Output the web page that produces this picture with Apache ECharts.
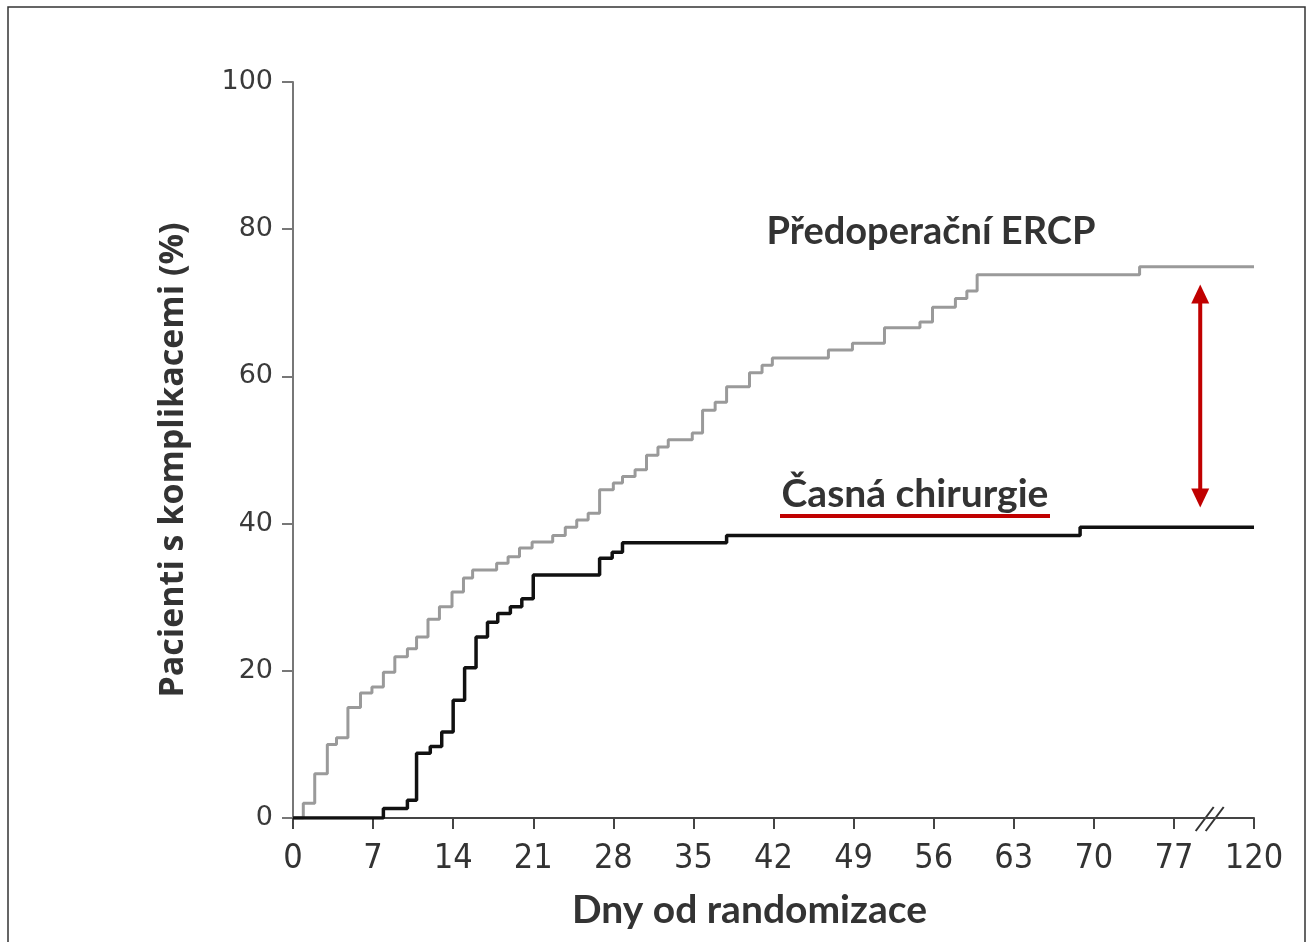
<!DOCTYPE html>
<html>
<head>
<meta charset="utf-8">
<script src="https://cdn.jsdelivr.net/npm/echarts@6/dist/echarts.min.js"></script>
<style>
html,body{margin:0;padding:0;background:#fff;}
#chart{width:1308px;height:942px;}
</style>
</head>
<body>
<div id="chart"></div>
<script>
// ---- data ----
const xTickValues = [0, 7, 14, 21, 28, 35, 42, 49, 56, 63, 70, 77, 84];
const xTickLabels = ['0', '7', '14', '21', '28', '35', '42', '49', '56', '63', '70', '77', '120'];
const yTickLabels = ['0', '20', '40', '60', '80', '100'];

const ercpDays = [0, 0.9, 1.9, 3.0, 3.8, 4.8, 5.9, 6.9, 7.9, 8.9, 10.0, 10.8, 11.8, 12.8, 13.9, 14.9, 15.7, 17.8, 18.8, 19.8, 20.9, 22.7, 23.8, 24.8, 25.8, 26.8, 28.0, 28.8, 29.9, 30.9, 31.9, 32.8, 34.9, 35.8, 36.9, 37.9, 39.9, 41.0, 41.9, 46.8, 48.9, 51.7, 54.8, 55.9, 57.9, 58.9, 59.8, 74.0, 84];
const ercpPct  = [0, 2, 6, 10, 10.9, 15, 17, 17.8, 19.8, 21.9, 23, 24.6, 27, 28.7, 30.7, 32.6, 33.7, 34.6, 35.5, 36.7, 37.5, 38.4, 39.5, 40.5, 41.4, 44.6, 45.5, 46.4, 47.3, 49.3, 50.4, 51.4, 52.3, 55.4, 56.5, 58.6, 60.5, 61.5, 62.5, 63.6, 64.5, 66.6, 67.4, 69.4, 70.6, 71.6, 73.8, 74.9, 74.9];

const surgDays = [0, 7.9, 10.0, 10.8, 12.0, 13.0, 14.0, 15.0, 16.0, 17.0, 17.9, 19.0, 20.0, 21.0, 26.8, 27.9, 28.8, 37.9, 68.8, 84];
const surgPct  = [0, 1.3, 2.4, 8.8, 9.7, 11.7, 16, 20.4, 24.6, 26.6, 27.8, 28.7, 29.8, 33, 35.3, 36.1, 37.4, 38.4, 39.5, 39.5];

const seriesNames = ['Předoperační ERCP', 'Časná chirurgie'];
const xTitle = 'Dny od randomizace';
const yTitle = 'Pacienti s komplikacemi (%)';

const ercpData = ercpDays.map((d, i) => [d, ercpPct[i]]);
const surgData = surgDays.map((d, i) => [d, surgPct[i]]);

const chart = echarts.init(document.getElementById('chart'), null, {renderer: 'canvas'});
const option = {
  backgroundColor: '#ffffff',
  animation: false,
  grid: {left: 293, right: 54, top: 82, bottom: 124, containLabel: false},
  xAxis: {
    type: 'value', min: 0, max: 84, interval: 7,
    name: xTitle, nameLocation: 'middle', nameGap: 73,
    nameTextStyle: {fontFamily: 'Lato', fontWeight: 'bold', fontSize: 39, color: '#333', padding: [0, 48, 0, 0]},
    axisLine: {show: true, lineStyle: {color: '#444', width: 2}},
    axisTick: {show: true, length: 11, lineStyle: {color: '#444', width: 2}},
    axisLabel: {
      fontFamily: 'Liberation Sans Narrow, DejaVu Sans Condensed, sans-serif', fontSize: 34, color: '#333', margin: 24,
      formatter: v => { const i = xTickValues.indexOf(v); return i >= 0 ? xTickLabels[i] : ''; }
    },
    splitLine: {show: false}
  },
  yAxis: {
    type: 'value', min: 0, max: 100, interval: 20,
    name: yTitle, nameLocation: 'middle', nameGap: 103, nameRotate: 90,
    nameTextStyle: {fontFamily: 'Open Sans', fontWeight: 'bold', fontSize: 34, color: '#333', padding: [0, 20, 0, 0]},
    axisLine: {show: true, lineStyle: {color: '#777', width: 2}},
    axisTick: {show: true, length: 11, lineStyle: {color: '#777', width: 2}},
    axisLabel: {
      fontFamily: 'DejaVu Sans', fontSize: 27, color: '#3a3a3a', margin: 20,
      formatter: v => yTickLabels[Math.round(v / 20)]
    },
    splitLine: {show: false}
  },
  series: [
    {name: seriesNames[0], type: 'line', step: 'end', data: ercpData, showSymbol: false, symbol: 'none',
     lineStyle: {color: '#9a9a9a', width: 3}, z: 3},
    {name: seriesNames[1], type: 'line', step: 'end', data: surgData, showSymbol: false, symbol: 'none',
     lineStyle: {color: '#111', width: 3.5}, z: 4}
  ]
};
chart.setOption(option);

// annotations
const arrowTop = chart.convertToPixel({gridIndex: 0}, [79.3, 72.5]);
const arrowBot = chart.convertToPixel({gridIndex: 0}, [79.3, 42.2]);
const brk = chart.convertToPixel({gridIndex: 0}, [80.3, 0]);
const red = '#c00000';
chart.setOption({
  graphic: [
    {type: 'rect', shape: {x: 8, y: 7, width: 1297, height: 960}, style: {fill: 'none', stroke: '#333', lineWidth: 1.5}, silent: true},
    {type: 'text', style: {text: seriesNames[0], x: 931, y: 232, align: 'center', verticalAlign: 'middle',
      font: 'bold 38px Lato', fill: '#333'}},
    {type: 'text', style: {text: seriesNames[1], x: 915, y: 494, align: 'center', verticalAlign: 'middle',
      font: 'bold 39px Lato', fill: '#333'}},
    {type: 'line', shape: {x1: 780, y1: 516, x2: 1050, y2: 516}, style: {stroke: red, lineWidth: 4}},
    {type: 'line', shape: {x1: arrowTop[0], y1: arrowTop[1] + 14, x2: arrowBot[0], y2: arrowBot[1] - 14}, style: {stroke: red, lineWidth: 4}},
    {type: 'polygon', shape: {points: [[arrowTop[0], arrowTop[1]], [arrowTop[0] - 9, arrowTop[1] + 19], [arrowTop[0] + 9, arrowTop[1] + 19]]}, style: {fill: red}},
    {type: 'polygon', shape: {points: [[arrowBot[0], arrowBot[1]], [arrowBot[0] - 9, arrowBot[1] - 19], [arrowBot[0] + 9, arrowBot[1] - 19]]}, style: {fill: red}},
    {type: 'line', shape: {x1: brk[0] - 16, y1: brk[1] + 13, x2: brk[0] + 2, y2: brk[1] - 11}, style: {stroke: '#333', lineWidth: 2}},
    {type: 'line', shape: {x1: brk[0] - 6, y1: brk[1] + 13, x2: brk[0] + 12, y2: brk[1] - 11}, style: {stroke: '#333', lineWidth: 2}}
  ]
});
</script>
</body>
</html>
